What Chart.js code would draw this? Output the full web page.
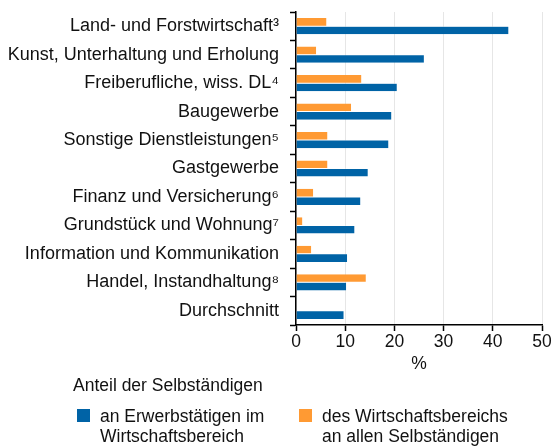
<!DOCTYPE html>
<html>
<head>
<meta charset="utf-8">
<script src="https://cdn.jsdelivr.net/npm/chart.js@4.4.1/dist/chart.umd.min.js"></script>
<style>
  body { margin: 0; background: #fff; }
  #wrap { position: relative; width: 560px; height: 447px; font-family: "Liberation Sans", Arial, sans-serif; font-size: 17.5px; color: #111; }
  .txt { position: absolute; line-height: 20px; white-space: nowrap; }
  .box { position: absolute; width: 13px; height: 13px; }
</style>
</head>
<body>
<div id="wrap">
  <canvas id="canvas" width="560" height="447"></canvas>
  <div class="txt" style="left:73px; top:375px;">Anteil der Selbständigen</div>
  <div class="box" style="left:77px; top:409px; background:#0063a6"></div>
  <div class="txt" style="left:100px; top:406px;">an Erwerbstätigen im<br>Wirtschaftsbereich</div>
  <div class="box" style="left:299px; top:409px; background:#ff9a33"></div>
  <div class="txt" style="left:322px; top:406px;">des Wirtschaftsbereichs<br>an allen Selbständigen</div>
</div>
<script>
var categories = [
    "Land- und Forstwirtschaft³",
    "Kunst, Unterhaltung und Erholung",
    "Freiberufliche, wiss. DL⁴",
    "Baugewerbe",
    "Sonstige Dienstleistungen⁵",
    "Gastgewerbe",
    "Finanz und Versicherung⁶",
    "Grundstück und Wohnung⁷",
    "Information und Kommunikation",
    "Handel, Instandhaltung⁸",
    "Durchschnitt"
];
// Anteil an Erwerbstätigen im Wirtschaftsbereich
var anteilErwerbstaetige = [43.2, 26.0, 20.5, 19.4, 18.8, 14.6, 13.1, 11.9, 10.4, 10.2, 9.7];
// Anteil des Wirtschaftsbereichs an allen Selbständigen
var anteilSelbstaendige = [6.2, 4.1, 13.3, 11.2, 6.4, 6.4, 3.5, 1.3, 3.1, 14.2, null];
var xTicks = [0, 10, 20, 30, 40, 50];

var font = "'Liberation Sans', Arial, sans-serif";

const ctx = document.getElementById('canvas').getContext('2d');
const myChart = new Chart(ctx, {
    type: 'bar',
    data: {
        labels: categories,
        datasets: [{
            label: 'des Wirtschaftsbereichs an allen Selbständigen',
            data: anteilSelbstaendige,
            backgroundColor: "#ff9a33",
            borderColor: "#ffffff",
            borderWidth: { top: 0, bottom: 0.5, left: 0, right: 0 },
            borderSkipped: false,
            categoryPercentage: 0.57,
            barPercentage: 1
        }, {
            label: 'an Erwerbstätigen im Wirtschaftsbereich',
            data: anteilErwerbstaetige,
            backgroundColor: "#0063a6",
            borderColor: "#ffffff",
            borderWidth: { top: 0.5, bottom: 0, left: 0, right: 0 },
            borderSkipped: false,
            categoryPercentage: 0.57,
            barPercentage: 1
        }]
    },
    options: {
        indexAxis: 'y',
        responsive: false,
        animation: false,
        layout: { padding: { top: 12, right: 18, bottom: 72, left: 0 } },
        plugins: {
            legend: { display: false },
            tooltip: { enabled: false }
        },
        scales: {
            x: {
                min: 0,
                max: 50,
                afterBuildTicks: function (scale) {
                    scale.ticks = xTicks.map(function (v) { return { value: v }; });
                },
                afterFit: function (scale) { scale.height = 50; },
                border: { display: true, color: '#000', width: 1.5 },
                grid: {
                    color: '#e6e6e6',
                    lineWidth: 1,
                    drawTicks: true,
                    tickColor: '#000',
                    tickLength: 6,
                    tickWidth: 1.5
                },
                ticks: { color: '#111', font: { family: font, size: 17.5 }, padding: 1 },
                title: {
                    display: true,
                    text: '%',
                    color: '#111',
                    font: { family: font, size: 17.5 },
                    padding: { top: -4, bottom: 0 }
                }
            },
            y: {
                afterFit: function (scale) {
                    scale.width = 296;
                    scale.paddingTop = 0;
                    scale.paddingBottom = 0;
                },
                border: { display: true, color: '#000', width: 1.5 },
                grid: {
                    offset: true,
                    drawOnChartArea: false,
                    drawTicks: true,
                    tickColor: '#000',
                    tickLength: 6,
                    tickWidth: 1.5
                },
                ticks: { color: '#111', font: { family: font, size: 18 }, padding: 11, autoSkip: false }
            }
        }
    }
});
</script>
</body>
</html>
